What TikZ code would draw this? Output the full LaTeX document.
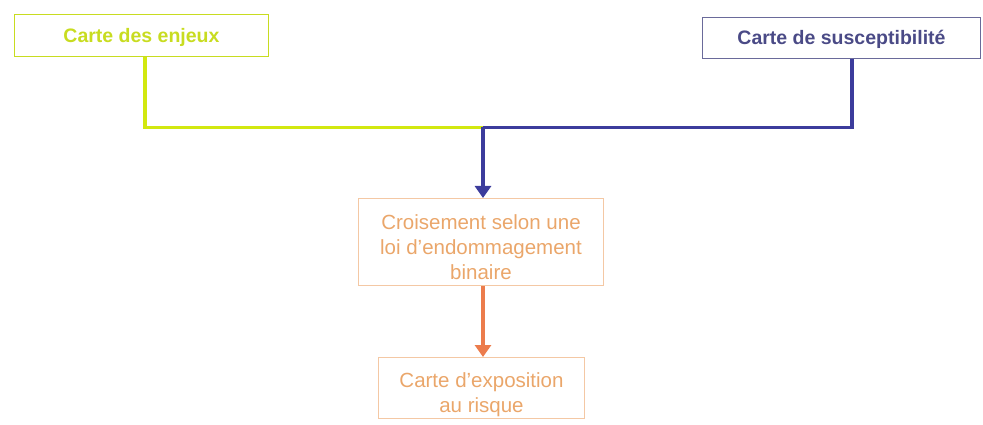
\documentclass[tikz,border=0pt]{standalone}
\usepackage{fontspec}
\setmainfont{Liberation Sans}
\usetikzlibrary{arrows.meta}
\definecolor{lime}{HTML}{C8DC20}
\definecolor{limeline}{HTML}{D2E810}
\definecolor{navy}{HTML}{3C3C9C}
\definecolor{navybox}{HTML}{6A6A9A}
\definecolor{navytext}{HTML}{4A4A86}
\definecolor{orline}{HTML}{EC7C4C}
\definecolor{orbox}{HTML}{F4C8A4}
\definecolor{ortext}{HTML}{EAA66A}
\tikzset{
  box/.style={draw, line width=1pt, inner sep=0pt, align=center, anchor=north west},
  conn/.style={line width=3.5pt},
  topfont/.style={font=\bfseries\fontsize{19.5}{21}\selectfont},
  midfont/.style={font=\fontsize{20.5}{25}\selectfont},
  label text/.style={inner sep=0pt, align=center},
}
\begin{document}
\begin{tikzpicture}[x=1pt,y=-1pt]
\useasboundingbox (0,0) rectangle (983,425);
\node[box, draw=lime, minimum width=254pt, minimum height=42pt] (enj) at (14,14) {};
\node[label text, text=lime, topfont, yshift=-2pt] (enjt) at (enj.center) {Carte des enjeux};
\node[box, draw=navybox, minimum width=278pt, minimum height=41pt] (sus) at (702,17) {};
\node[label text, text=navytext, topfont, yshift=-1pt] (sust) at (sus.center) {Carte de susceptibilité};
\node[box, draw=orbox, minimum width=245pt, minimum height=87pt] (cro) at (358,198) {};
\node[label text, text=ortext, midfont, yshift=-5pt] (crot) at (cro.center) {Croisement selon une\\loi d'endommagement\\binaire};
\node[box, draw=orbox, minimum width=206pt, minimum height=61pt] (exp) at (378,357) {};
\node[label text, text=ortext, midfont, yshift=-7pt] (expt) at (exp.center) {Carte d'exposition\\au risque};
\coordinate (j) at (483,127.5);
\draw[conn, limeline] (enj.south -| 145,0) |- (j);
\draw[conn, navy] (sus.south -| 852,0) |- (j);
\draw[conn, navy, -{Triangle[length=12pt,width=16pt]}] (j) -- (cro.north -| j);
\draw[conn, orline, -{Triangle[length=12pt,width=16pt]}] (cro.south -| j) -- (exp.north -| j);
\end{tikzpicture}
\end{document}
